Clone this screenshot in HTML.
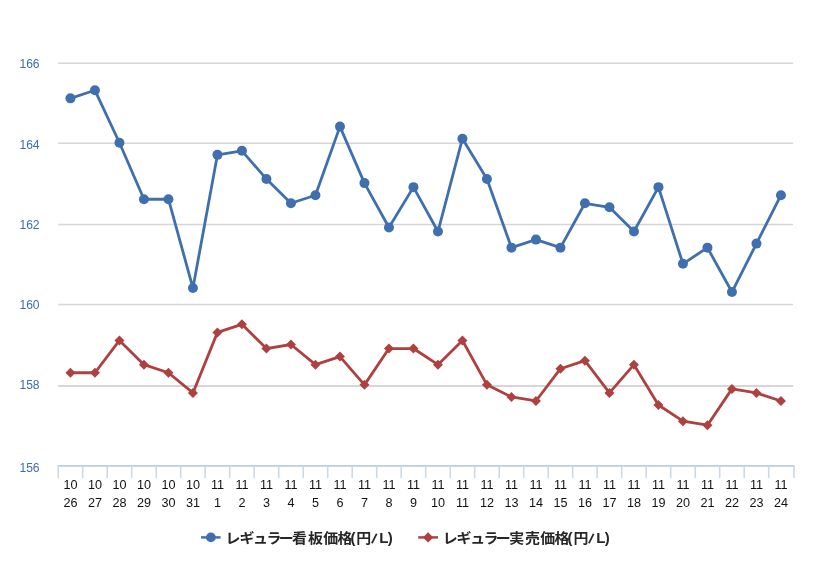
<!DOCTYPE html>
<html lang="ja"><head><meta charset="utf-8"><title>レギュラー価格</title>
<style>
html,body{margin:0;padding:0;background:#fff}
body{width:830px;height:571px;overflow:hidden}
svg{display:block}
.yl{font-family:"Liberation Sans",sans-serif;font-size:12.1px;fill:#3D6CB0}
.xl{font-family:"Liberation Sans","IPAGothic",sans-serif;font-size:12.4px;fill:#111}
.lg{font-family:"Liberation Sans","Noto Sans CJK JP",sans-serif;font-size:13.9px;font-weight:bold;fill:#262626}
</style></head><body>
<svg width="830" height="571" viewBox="0 0 830 571">
<rect width="830" height="571" fill="#fff"/>
<path d="M58.2 63.30H793.2" stroke="#D6D6D6" stroke-width="1.5" fill="none"/>
<path d="M58.2 143.30H793.2" stroke="#D6D6D6" stroke-width="1.5" fill="none"/>
<path d="M58.2 224.60H793.2" stroke="#D6D6D6" stroke-width="1.5" fill="none"/>
<path d="M58.2 304.60H793.2" stroke="#D6D6D6" stroke-width="1.5" fill="none"/>
<path d="M58.2 386.00H793.2" stroke="#D6D6D6" stroke-width="2.0" fill="none"/>
<path d="M57.6 465.80H794.7" stroke="#BDCDDF" stroke-width="1.7" fill="none"/>
<path d="M58.20 465.80V478.00M82.70 465.80V478.00M107.20 465.80V478.00M131.70 465.80V478.00M156.20 465.80V478.00M180.70 465.80V478.00M205.20 465.80V478.00M229.70 465.80V478.00M254.20 465.80V478.00M278.70 465.80V478.00M303.20 465.80V478.00M327.70 465.80V478.00M352.20 465.80V478.00M376.70 465.80V478.00M401.20 465.80V478.00M425.70 465.80V478.00M450.20 465.80V478.00M474.70 465.80V478.00M499.20 465.80V478.00M523.70 465.80V478.00M548.20 465.80V478.00M572.70 465.80V478.00M597.20 465.80V478.00M621.70 465.80V478.00M646.20 465.80V478.00M670.70 465.80V478.00M695.20 465.80V478.00M719.70 465.80V478.00M744.20 465.80V478.00M768.70 465.80V478.00M794.00 465.80V478.00" stroke="#CCD9E8" stroke-width="1.6" fill="none"/>
<text class="yl" x="39.6" y="67.65" text-anchor="end">166</text>
<text class="yl" x="39.6" y="148.55" text-anchor="end">164</text>
<text class="yl" x="39.6" y="228.55" text-anchor="end">162</text>
<text class="yl" x="39.6" y="309.45" text-anchor="end">160</text>
<text class="yl" x="39.6" y="389.45" text-anchor="end">158</text>
<text class="yl" x="39.6" y="471.55" text-anchor="end">156</text>
<g transform="translate(70.45,0) scale(1.02,1)"><text class="xl" x="0" y="489" text-anchor="middle">10</text><text class="xl" x="0" y="507.1" text-anchor="middle">26</text></g>
<g transform="translate(94.95,0) scale(1.02,1)"><text class="xl" x="0" y="489" text-anchor="middle">10</text><text class="xl" x="0" y="507.1" text-anchor="middle">27</text></g>
<g transform="translate(119.45,0) scale(1.02,1)"><text class="xl" x="0" y="489" text-anchor="middle">10</text><text class="xl" x="0" y="507.1" text-anchor="middle">28</text></g>
<g transform="translate(143.95,0) scale(1.02,1)"><text class="xl" x="0" y="489" text-anchor="middle">10</text><text class="xl" x="0" y="507.1" text-anchor="middle">29</text></g>
<g transform="translate(168.45,0) scale(1.02,1)"><text class="xl" x="0" y="489" text-anchor="middle">10</text><text class="xl" x="0" y="507.1" text-anchor="middle">30</text></g>
<g transform="translate(192.95,0) scale(1.02,1)"><text class="xl" x="0" y="489" text-anchor="middle">10</text><text class="xl" x="0" y="507.1" text-anchor="middle">31</text></g>
<g transform="translate(217.45,0) scale(1.02,1)"><text class="xl" x="0" y="489" text-anchor="middle">11</text><text class="xl" x="0" y="507.1" text-anchor="middle">1</text></g>
<g transform="translate(241.95,0) scale(1.02,1)"><text class="xl" x="0" y="489" text-anchor="middle">11</text><text class="xl" x="0" y="507.1" text-anchor="middle">2</text></g>
<g transform="translate(266.45,0) scale(1.02,1)"><text class="xl" x="0" y="489" text-anchor="middle">11</text><text class="xl" x="0" y="507.1" text-anchor="middle">3</text></g>
<g transform="translate(290.95,0) scale(1.02,1)"><text class="xl" x="0" y="489" text-anchor="middle">11</text><text class="xl" x="0" y="507.1" text-anchor="middle">4</text></g>
<g transform="translate(315.45,0) scale(1.02,1)"><text class="xl" x="0" y="489" text-anchor="middle">11</text><text class="xl" x="0" y="507.1" text-anchor="middle">5</text></g>
<g transform="translate(339.95,0) scale(1.02,1)"><text class="xl" x="0" y="489" text-anchor="middle">11</text><text class="xl" x="0" y="507.1" text-anchor="middle">6</text></g>
<g transform="translate(364.45,0) scale(1.02,1)"><text class="xl" x="0" y="489" text-anchor="middle">11</text><text class="xl" x="0" y="507.1" text-anchor="middle">7</text></g>
<g transform="translate(388.95,0) scale(1.02,1)"><text class="xl" x="0" y="489" text-anchor="middle">11</text><text class="xl" x="0" y="507.1" text-anchor="middle">8</text></g>
<g transform="translate(413.45,0) scale(1.02,1)"><text class="xl" x="0" y="489" text-anchor="middle">11</text><text class="xl" x="0" y="507.1" text-anchor="middle">9</text></g>
<g transform="translate(437.95,0) scale(1.02,1)"><text class="xl" x="0" y="489" text-anchor="middle">11</text><text class="xl" x="0" y="507.1" text-anchor="middle">10</text></g>
<g transform="translate(462.45,0) scale(1.02,1)"><text class="xl" x="0" y="489" text-anchor="middle">11</text><text class="xl" x="0" y="507.1" text-anchor="middle">11</text></g>
<g transform="translate(486.95,0) scale(1.02,1)"><text class="xl" x="0" y="489" text-anchor="middle">11</text><text class="xl" x="0" y="507.1" text-anchor="middle">12</text></g>
<g transform="translate(511.45,0) scale(1.02,1)"><text class="xl" x="0" y="489" text-anchor="middle">11</text><text class="xl" x="0" y="507.1" text-anchor="middle">13</text></g>
<g transform="translate(535.95,0) scale(1.02,1)"><text class="xl" x="0" y="489" text-anchor="middle">11</text><text class="xl" x="0" y="507.1" text-anchor="middle">14</text></g>
<g transform="translate(560.45,0) scale(1.02,1)"><text class="xl" x="0" y="489" text-anchor="middle">11</text><text class="xl" x="0" y="507.1" text-anchor="middle">15</text></g>
<g transform="translate(584.95,0) scale(1.02,1)"><text class="xl" x="0" y="489" text-anchor="middle">11</text><text class="xl" x="0" y="507.1" text-anchor="middle">16</text></g>
<g transform="translate(609.45,0) scale(1.02,1)"><text class="xl" x="0" y="489" text-anchor="middle">11</text><text class="xl" x="0" y="507.1" text-anchor="middle">17</text></g>
<g transform="translate(633.95,0) scale(1.02,1)"><text class="xl" x="0" y="489" text-anchor="middle">11</text><text class="xl" x="0" y="507.1" text-anchor="middle">18</text></g>
<g transform="translate(658.45,0) scale(1.02,1)"><text class="xl" x="0" y="489" text-anchor="middle">11</text><text class="xl" x="0" y="507.1" text-anchor="middle">19</text></g>
<g transform="translate(682.95,0) scale(1.02,1)"><text class="xl" x="0" y="489" text-anchor="middle">11</text><text class="xl" x="0" y="507.1" text-anchor="middle">20</text></g>
<g transform="translate(707.45,0) scale(1.02,1)"><text class="xl" x="0" y="489" text-anchor="middle">11</text><text class="xl" x="0" y="507.1" text-anchor="middle">21</text></g>
<g transform="translate(731.95,0) scale(1.02,1)"><text class="xl" x="0" y="489" text-anchor="middle">11</text><text class="xl" x="0" y="507.1" text-anchor="middle">22</text></g>
<g transform="translate(756.45,0) scale(1.02,1)"><text class="xl" x="0" y="489" text-anchor="middle">11</text><text class="xl" x="0" y="507.1" text-anchor="middle">23</text></g>
<g transform="translate(780.95,0) scale(1.02,1)"><text class="xl" x="0" y="489" text-anchor="middle">11</text><text class="xl" x="0" y="507.1" text-anchor="middle">24</text></g>
<polyline points="70.45,98.37 94.95,90.29 119.45,142.75 143.95,199.24 168.45,199.24 192.95,288.01 217.45,154.86 241.95,150.82 266.45,179.07 290.95,203.27 315.45,195.21 339.95,126.61 364.45,183.10 388.95,227.48 413.45,187.13 437.95,231.52 462.45,138.72 486.95,179.07 511.45,247.66 535.95,239.59 560.45,247.66 584.95,203.27 609.45,207.31 633.95,231.52 658.45,187.13 682.95,263.80 707.45,247.66 731.95,292.04 756.45,243.62 780.95,195.21" fill="none" stroke="#3F70AD" stroke-width="2.8" stroke-linejoin="round" stroke-linecap="round"/>
<circle cx="70.45" cy="98.37" r="5.0" fill="#3F70AD"/>
<circle cx="94.95" cy="90.29" r="5.0" fill="#3F70AD"/>
<circle cx="119.45" cy="142.75" r="5.0" fill="#3F70AD"/>
<circle cx="143.95" cy="199.24" r="5.0" fill="#3F70AD"/>
<circle cx="168.45" cy="199.24" r="5.0" fill="#3F70AD"/>
<circle cx="192.95" cy="288.01" r="5.0" fill="#3F70AD"/>
<circle cx="217.45" cy="154.86" r="5.0" fill="#3F70AD"/>
<circle cx="241.95" cy="150.82" r="5.0" fill="#3F70AD"/>
<circle cx="266.45" cy="179.07" r="5.0" fill="#3F70AD"/>
<circle cx="290.95" cy="203.27" r="5.0" fill="#3F70AD"/>
<circle cx="315.45" cy="195.21" r="5.0" fill="#3F70AD"/>
<circle cx="339.95" cy="126.61" r="5.0" fill="#3F70AD"/>
<circle cx="364.45" cy="183.10" r="5.0" fill="#3F70AD"/>
<circle cx="388.95" cy="227.48" r="5.0" fill="#3F70AD"/>
<circle cx="413.45" cy="187.13" r="5.0" fill="#3F70AD"/>
<circle cx="437.95" cy="231.52" r="5.0" fill="#3F70AD"/>
<circle cx="462.45" cy="138.72" r="5.0" fill="#3F70AD"/>
<circle cx="486.95" cy="179.07" r="5.0" fill="#3F70AD"/>
<circle cx="511.45" cy="247.66" r="5.0" fill="#3F70AD"/>
<circle cx="535.95" cy="239.59" r="5.0" fill="#3F70AD"/>
<circle cx="560.45" cy="247.66" r="5.0" fill="#3F70AD"/>
<circle cx="584.95" cy="203.27" r="5.0" fill="#3F70AD"/>
<circle cx="609.45" cy="207.31" r="5.0" fill="#3F70AD"/>
<circle cx="633.95" cy="231.52" r="5.0" fill="#3F70AD"/>
<circle cx="658.45" cy="187.13" r="5.0" fill="#3F70AD"/>
<circle cx="682.95" cy="263.80" r="5.0" fill="#3F70AD"/>
<circle cx="707.45" cy="247.66" r="5.0" fill="#3F70AD"/>
<circle cx="731.95" cy="292.04" r="5.0" fill="#3F70AD"/>
<circle cx="756.45" cy="243.62" r="5.0" fill="#3F70AD"/>
<circle cx="780.95" cy="195.21" r="5.0" fill="#3F70AD"/>
<polyline points="70.45,372.74 94.95,372.74 119.45,340.47 143.95,364.68 168.45,372.74 192.95,392.92 217.45,332.39 241.95,324.33 266.45,348.53 290.95,344.50 315.45,364.68 339.95,356.61 364.45,384.85 388.95,348.53 413.45,348.53 437.95,364.68 462.45,340.47 486.95,384.85 511.45,396.96 535.95,400.99 560.45,368.71 584.95,360.64 609.45,392.92 633.95,364.68 658.45,405.03 682.95,421.17 707.45,425.20 731.95,388.88 756.45,392.92 780.95,400.99" fill="none" stroke="#AF4040" stroke-width="2.8" stroke-linejoin="round" stroke-linecap="round"/>
<path d="M70.45 367.74L75.45 372.74L70.45 377.74L65.45 372.74Z" fill="#AF4040"/>
<path d="M94.95 367.74L99.95 372.74L94.95 377.74L89.95 372.74Z" fill="#AF4040"/>
<path d="M119.45 335.47L124.45 340.47L119.45 345.47L114.45 340.47Z" fill="#AF4040"/>
<path d="M143.95 359.68L148.95 364.68L143.95 369.68L138.95 364.68Z" fill="#AF4040"/>
<path d="M168.45 367.74L173.45 372.74L168.45 377.74L163.45 372.74Z" fill="#AF4040"/>
<path d="M192.95 387.92L197.95 392.92L192.95 397.92L187.95 392.92Z" fill="#AF4040"/>
<path d="M217.45 327.39L222.45 332.39L217.45 337.39L212.45 332.39Z" fill="#AF4040"/>
<path d="M241.95 319.33L246.95 324.33L241.95 329.33L236.95 324.33Z" fill="#AF4040"/>
<path d="M266.45 343.53L271.45 348.53L266.45 353.53L261.45 348.53Z" fill="#AF4040"/>
<path d="M290.95 339.50L295.95 344.50L290.95 349.50L285.95 344.50Z" fill="#AF4040"/>
<path d="M315.45 359.68L320.45 364.68L315.45 369.68L310.45 364.68Z" fill="#AF4040"/>
<path d="M339.95 351.61L344.95 356.61L339.95 361.61L334.95 356.61Z" fill="#AF4040"/>
<path d="M364.45 379.85L369.45 384.85L364.45 389.85L359.45 384.85Z" fill="#AF4040"/>
<path d="M388.95 343.53L393.95 348.53L388.95 353.53L383.95 348.53Z" fill="#AF4040"/>
<path d="M413.45 343.53L418.45 348.53L413.45 353.53L408.45 348.53Z" fill="#AF4040"/>
<path d="M437.95 359.68L442.95 364.68L437.95 369.68L432.95 364.68Z" fill="#AF4040"/>
<path d="M462.45 335.47L467.45 340.47L462.45 345.47L457.45 340.47Z" fill="#AF4040"/>
<path d="M486.95 379.85L491.95 384.85L486.95 389.85L481.95 384.85Z" fill="#AF4040"/>
<path d="M511.45 391.96L516.45 396.96L511.45 401.96L506.45 396.96Z" fill="#AF4040"/>
<path d="M535.95 395.99L540.95 400.99L535.95 405.99L530.95 400.99Z" fill="#AF4040"/>
<path d="M560.45 363.71L565.45 368.71L560.45 373.71L555.45 368.71Z" fill="#AF4040"/>
<path d="M584.95 355.64L589.95 360.64L584.95 365.64L579.95 360.64Z" fill="#AF4040"/>
<path d="M609.45 387.92L614.45 392.92L609.45 397.92L604.45 392.92Z" fill="#AF4040"/>
<path d="M633.95 359.68L638.95 364.68L633.95 369.68L628.95 364.68Z" fill="#AF4040"/>
<path d="M658.45 400.03L663.45 405.03L658.45 410.03L653.45 405.03Z" fill="#AF4040"/>
<path d="M682.95 416.17L687.95 421.17L682.95 426.17L677.95 421.17Z" fill="#AF4040"/>
<path d="M707.45 420.20L712.45 425.20L707.45 430.20L702.45 425.20Z" fill="#AF4040"/>
<path d="M731.95 383.88L736.95 388.88L731.95 393.88L726.95 388.88Z" fill="#AF4040"/>
<path d="M756.45 387.92L761.45 392.92L756.45 397.92L751.45 392.92Z" fill="#AF4040"/>
<path d="M780.95 395.99L785.95 400.99L780.95 405.99L775.95 400.99Z" fill="#AF4040"/>
<path d="M201 537.4H220.6" stroke="#3F70AD" stroke-width="2.44"/><circle cx="210.9" cy="537.4" r="4.9" fill="#3F70AD"/>
<text class="lg" transform="scale(1.075,1)" x="209.84 222.73 235.43 247.93 259.33 271.70 286.49 300.59 313.99 326.04 331.47 345.03 352.74 360.70" y="542.7" rotate="0 0 0 0 0 0 0 0 0 0 0 14 0 0">レギュラー看板価格(円/L)</text>
<path d="M418.2 537.4H438" stroke="#AF4040" stroke-width="2.44"/><path d="M428.1 532.3l5.2 5.1l-5.2 5.1l-5.2 -5.1Z" fill="#AF4040"/>
<text class="lg" transform="scale(1.075,1)" x="411.79 424.68 437.38 449.88 461.28 473.66 488.45 502.54 515.94 527.99 533.43 546.98 554.69 562.65" y="542.7" rotate="0 0 0 0 0 0 0 0 0 0 0 14 0 0">レギュラー実売価格(円/L)</text>
</svg></body></html>
